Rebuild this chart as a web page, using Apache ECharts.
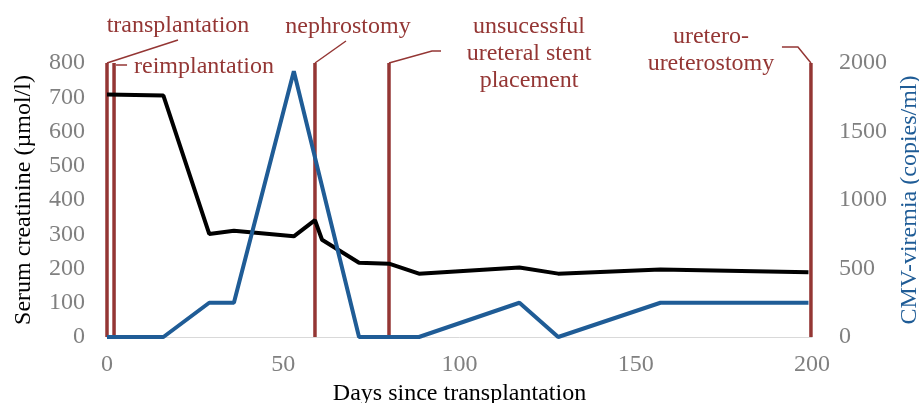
<!DOCTYPE html>
<html>
<head>
<meta charset="utf-8">
<title>Serum creatinine / CMV-viremia</title>
<script src="https://cdn.jsdelivr.net/npm/echarts@6/dist/echarts.min.js"></script>
<style>
  html, body { margin: 0; padding: 0; background: #fff; }
  #chart { width: 919px; height: 403px; }
</style>
</head>
<body>
<div id="chart"></div>
<script>
    // 数据：血清肌酐 (左轴)
    const creatDays = [0, 16, 29, 36, 53, 59, 61, 71.5, 80, 88.5, 117, 128, 157, 199];
    const creatValues = [708, 705, 301, 310, 294, 341, 284, 217, 214, 185, 203, 185, 197, 189];
    // CMV 病毒血症 (右轴)
    const cmvDays = [0, 16, 29, 36, 53, 71.5, 88.5, 117, 128, 157, 199];
    const cmvValues = [0, 0, 250, 250, 1940, 0, 0, 250, 0, 250, 250];
    // 事件
    const eventDays = [0, 2, 59, 80, 199.7];
    const eventLabels = [
        'transplantation',
        'reimplantation',
        'nephrostomy',
        'unsucessful\nureteral stent\nplacement',
        'uretero-\nureterostomy'
    ];

    const RED = '#943634';
    const BLUE = '#1f5c96';
    const GRAY = '#808080';
    const FONT = '"Liberation Serif", "Times New Roman", serif';

    // 引线和标签的像素偏移（相对于竖线顶端）
    const leaderLayout = [
        { path: [[0, 0], [71, -23]], text: [71, -37], align: 'center' },
        { path: [[2, 2], [13, 2]], text: [20, 4], align: 'left' },
        { path: [[0, 0], [31, -22]], text: [33, -36], align: 'center' },
        { path: [[0, 0], [43, -12], [52, -12]], text: [140, -9], align: 'center' },
        { path: [[0, 0], [-13, -16], [-29, -16]], text: [-100, -13], align: 'center' }
    ];

    let myChart = echarts.init(document.getElementById('chart'));

    myChart.setOption({
        animation: false,
        grid: { left: 107, right: 107, top: 63, bottom: 66, containLabel: false, outerBoundsMode: 'none' },
        xAxis: {
            type: 'value',
            min: 0, max: 200, interval: 50,
            name: 'Days since transplantation',
            nameLocation: 'middle',
            nameGap: 45,
            nameTextStyle: { fontFamily: FONT, fontSize: 24, color: '#000' },
            axisLine: { show: true, lineStyle: { color: '#d9d9d9', width: 1 } },
            axisTick: { show: false },
            splitLine: { show: false },
            axisLabel: { fontFamily: FONT, fontSize: 24, color: GRAY, margin: 16 }
        },
        yAxis: [
            {
                type: 'value',
                min: 0, max: 800, interval: 100,
                name: 'Serum creatinine (µmol/l)',
                nameLocation: 'middle',
                nameGap: 71,
                nameTextStyle: { fontFamily: FONT, fontSize: 24, color: '#000' },
                axisLine: { show: false },
                axisTick: { show: false },
                splitLine: { show: false },
                axisLabel: { fontFamily: FONT, fontSize: 24, color: GRAY, margin: 22 }
            },
            {
                type: 'value',
                min: 0, max: 2000, interval: 500,
                name: 'CMV-viremia (copies/ml)',
                nameLocation: 'middle',
                nameGap: 84,
                nameTextStyle: { fontFamily: FONT, fontSize: 24, color: BLUE },
                axisLine: { show: false },
                axisTick: { show: false },
                splitLine: { show: false },
                axisLabel: {
                    fontFamily: FONT, fontSize: 24, color: GRAY, margin: 27,
                    formatter: v => String(v)
                }
            }
        ],
        series: [
            {
                // 事件竖线 + 引线 + 标签
                type: 'custom',
                clip: false,
                z: 1,
                data: eventDays.map((d, i) => [d, 0, i]),
                encode: { x: 0, y: 1 },
                renderItem: function (params, api) {
                    const i = params.dataIndex;
                    const bottom = api.coord([api.value(0), 0]);
                    const top = api.coord([api.value(0), 800]);
                    const lay = leaderLayout[i];
                    return {
                        type: 'group',
                        children: [
                            {
                                type: 'line',
                                shape: { x1: bottom[0], y1: bottom[1], x2: top[0], y2: top[1] },
                                style: { stroke: RED, lineWidth: 3.5 }
                            },
                            {
                                type: 'polyline',
                                shape: { points: lay.path.map(p => [top[0] + p[0], top[1] + p[1]]) },
                                style: { stroke: RED, lineWidth: 1.5, fill: null }
                            },
                            {
                                type: 'text',
                                x: top[0] + lay.text[0],
                                y: top[1] + lay.text[1],
                                style: {
                                    text: eventLabels[i],
                                    fill: RED,
                                    font: '24px ' + FONT,
                                    align: lay.align,
                                    verticalAlign: 'middle',
                                    lineHeight: 27
                                }
                            }
                        ]
                    };
                }
            },
            {
                name: 'Serum creatinine',
                type: 'line',
                z: 3,
                yAxisIndex: 0,
                symbol: 'none',
                data: creatDays.map((d, i) => [d, creatValues[i]]),
                lineStyle: { color: '#000', width: 4 }
            },
            {
                name: 'CMV-viremia',
                type: 'line',
                z: 3,
                yAxisIndex: 1,
                symbol: 'none',
                data: cmvDays.map((d, i) => [d, cmvValues[i]]),
                lineStyle: { color: BLUE, width: 4 }
            }
        ]
    });
</script>
</body>
</html>
